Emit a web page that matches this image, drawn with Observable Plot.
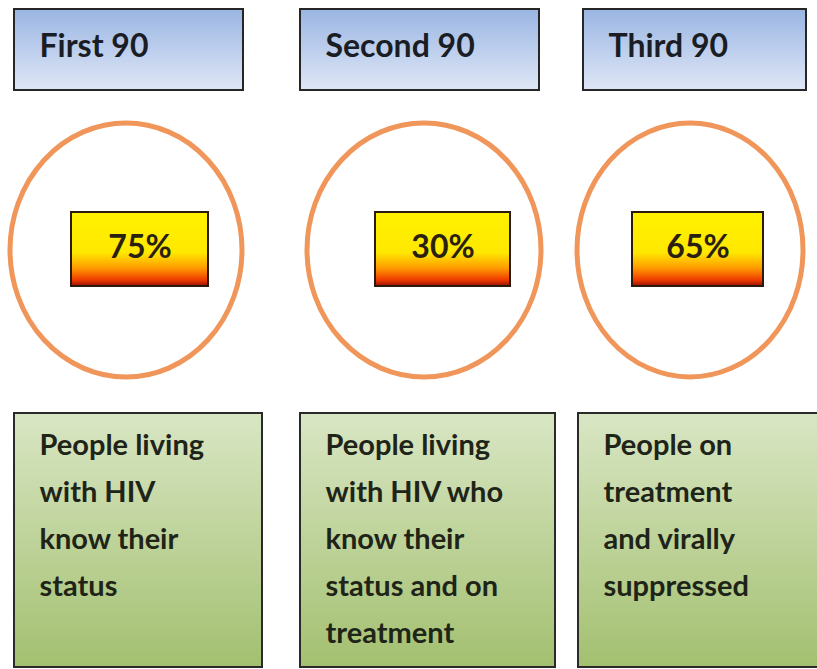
<!DOCTYPE html>
<html>
<head>
<meta charset="utf-8">
<script src="https://cdn.jsdelivr.net/npm/d3@7"></script>
<script src="https://cdn.jsdelivr.net/npm/@observablehq/plot@0.6"></script>
<style>
  html, body { margin: 0; padding: 0; background: #ffffff; }
  svg { display: block; }
</style>
</head>
<body>
<div id="chart"></div>
<script>
// ---- data ----
const stages = ["First 90", "Second 90", "Third 90"];
const percentages = [75, 30, 65];
const descriptions = [
  "People living\nwith HIV\nknow their\nstatus",
  "People living\nwith HIV who\nknow their\nstatus and on\ntreatment",
  "People on\ntreatment\nand virally\nsuppressed"
];

// ---- layout (pixel frame, mapped through linear x/y scales) ----
const headerX1 = [14, 300, 583];
const headerX2 = [243, 539, 806];
const ringCx = [126, 424, 690];
const ringRx = [116, 117, 113];
const pctX1 = [71, 375, 632];
const pctX2 = [208, 510, 763];
const descX1 = [14, 300, 578];
const descX2 = [262, 555, 824];

const W = 817, H = 669;
const FONT = "Lato, 'Open Sans', sans-serif";

const headers = stages.map((s, i) => ({label: s, x1: headerX1[i], x2: headerX2[i], y1: 9, y2: 90}));
const rings = stages.map((s, i) => ({cx: ringCx[i], cy: 250, rx: ringRx[i], ry: 127}));
const pcts = percentages.map((v, i) => ({label: `${v}%`, x1: pctX1[i], x2: pctX2[i], y1: 212, y2: 286}));
const descs = descriptions.map((d, i) => ({text: d, x1: descX1[i], x2: descX2[i], y1: 413, y2: 667}));

function defsMark() {
  const defs = d3.create("svg:defs");
  const blue = defs.append("linearGradient").attr("id", "gBlue").attr("x1", 0).attr("y1", 0).attr("x2", 0).attr("y2", 1);
  blue.append("stop").attr("offset", "0%").attr("stop-color", "#9ab5e3");
  blue.append("stop").attr("offset", "100%").attr("stop-color", "#dfe7f6");
  const fire = defs.append("linearGradient").attr("id", "gFire").attr("x1", 0).attr("y1", 0).attr("x2", 0).attr("y2", 1);
  fire.append("stop").attr("offset", "0%").attr("stop-color", "#fff200");
  fire.append("stop").attr("offset", "55%").attr("stop-color", "#ffe800");
  fire.append("stop").attr("offset", "76%").attr("stop-color", "#ff9a00");
  fire.append("stop").attr("offset", "92%").attr("stop-color", "#ee3a00");
  fire.append("stop").attr("offset", "100%").attr("stop-color", "#9a1000");
  const green = defs.append("linearGradient").attr("id", "gGreen").attr("x1", 0).attr("y1", 0).attr("x2", 0).attr("y2", 1);
  green.append("stop").attr("offset", "0%").attr("stop-color", "#d9e6c4");
  green.append("stop").attr("offset", "100%").attr("stop-color", "#a3c070");
  return defs.node();
}

function ringsMark(index, scales) {
  const g = d3.create("svg:g");
  g.selectAll("ellipse")
    .data(rings)
    .join("ellipse")
    .attr("cx", d => scales.x(d.cx))
    .attr("cy", d => scales.y(d.cy))
    .attr("rx", d => scales.x(d.cx + d.rx) - scales.x(d.cx))
    .attr("ry", d => scales.y(d.cy + d.ry) - scales.y(d.cy))
    .attr("fill", "none")
    .attr("stroke", "#f0965a")
    .attr("stroke-width", 5);
  return g.node();
}

const chart = Plot.plot({
  width: W,
  height: H,
  margin: 0,
  style: {background: "#ffffff", fontFamily: FONT},
  x: {type: "linear", domain: [0, W], range: [0, W], axis: null},
  y: {type: "linear", domain: [0, H], range: [0, H], axis: null},
  marks: [
    defsMark,
    // header boxes
    Plot.rect(headers, {x1: "x1", x2: "x2", y1: "y1", y2: "y2", fill: "url(#gBlue)", stroke: "#262626", strokeWidth: 2}),
    Plot.text(headers, {x: d => d.x1 + 25, y: 34, text: "label", textAnchor: "start", lineAnchor: "top",
      fontSize: 32, fontWeight: "bold", fill: "#1a1d24", fontFamily: FONT}),
    // rings
    ringsMark,
    // percent boxes
    Plot.rect(pcts, {x1: "x1", x2: "x2", y1: "y1", y2: "y2", fill: "url(#gFire)", stroke: "#2a1a10", strokeWidth: 2}),
    Plot.text(pcts, {x: d => (d.x1 + d.x2) / 2, y: 235, text: "label", lineAnchor: "top",
      fontSize: 32, fontWeight: "bold", fill: "#2a2010", fontFamily: FONT}),
    // description boxes
    Plot.rect(descs, {x1: "x1", x2: "x2", y1: "y1", y2: "y2", fill: "url(#gGreen)", stroke: "#2a2a2a", strokeWidth: 2}),
    Plot.text(descs, {x: d => d.x1 + 25, y: 421, text: "text", textAnchor: "start", lineAnchor: "top",
      lineHeight: 47 / 29, fontSize: 29, fontWeight: "bold", fill: "#1f2418", fontFamily: FONT})
  ]
});

document.getElementById("chart").appendChild(chart);
</script>
</body>
</html>
